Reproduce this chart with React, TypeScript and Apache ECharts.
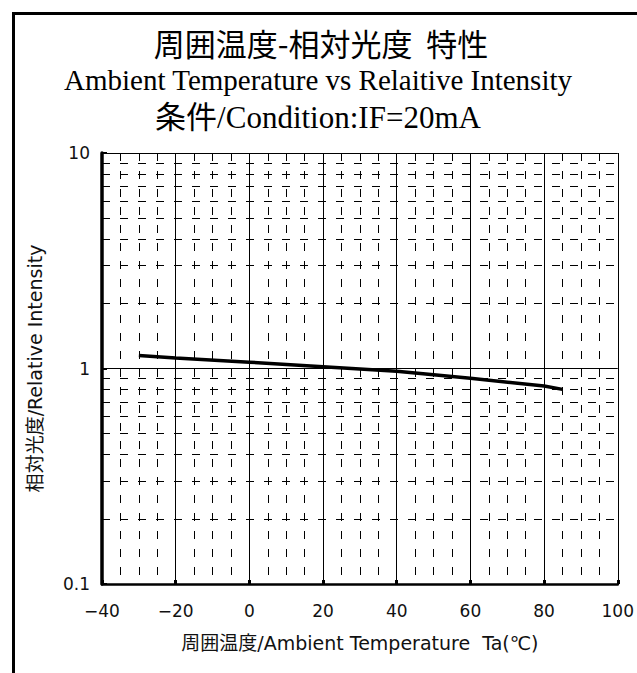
import React, { useEffect, useRef } from "react";
import * as echarts from "echarts";

const titleLines = [
  "周囲温度-相対光度  特性",
  "Ambient Temperature vs Relaitive Intensity",
  "条件/Condition:IF=20mA",
];
const xName = "周囲温度/Ambient Temperature  Ta(℃)";
const yName = "相対光度/Relative Intensity";

const temperature = [-30, -20, 0, 20, 40, 60, 80, 85];
const intensity = [1.15, 1.12, 1.07, 1.02, 0.97, 0.9, 0.83, 0.8];

const minorYLines = [0.2, 0.3, 0.4, 0.5, 0.6, 0.7, 0.8, 0.9, 2, 3, 4, 5, 6, 7, 8, 9];

const SANS = "'Noto Sans CJK JP', 'Liberation Sans', sans-serif";
const GOTHIC = "'DejaVu Sans', 'Noto Sans CJK JP', sans-serif";
const SERIF = "'Liberation Serif', 'Noto Sans CJK JP', serif";

export default function App() {
  const ref = useRef<HTMLDivElement>(null);
  useEffect(() => {
    if (!ref.current) return;
    const chart = echarts.init(ref.current, null, { renderer: "svg" });
    chart.setOption({
      animation: false,
      backgroundColor: "#fff",
      graphic: [
        {
          type: "rect",
          shape: { x: 13.5, y: 13.5, width: 700, height: 700 },
          style: { fill: "none", stroke: "#000", lineWidth: 3 },
          silent: true,
        },
        {
          type: "text",
          x: 321,
          y: 42,
          style: {
            text: titleLines[0],
            fontFamily: SANS,
            fontSize: 31,
            fill: "#000",
            align: "center",
            verticalAlign: "middle",
          },
        },
        {
          type: "text",
          x: 318,
          y: 80,
          style: {
            text: titleLines[1],
            fontFamily: SERIF,
            fontSize: 29,
            fill: "#000",
            align: "center",
            verticalAlign: "middle",
          },
        },
        {
          type: "text",
          x: 318,
          y: 117,
          style: {
            text: titleLines[2],
            fontFamily: SERIF,
            fontSize: 31,
            fill: "#000",
            align: "center",
            verticalAlign: "middle",
          },
        },
      ],
      grid: { left: 102, right: 17, top: 153, bottom: 89, containLabel: false },
      xAxis: {
        type: "value",
        min: -40,
        max: 100,
        interval: 20,
        name: xName,
        nameLocation: "middle",
        nameGap: 49,
        nameTextStyle: { fontFamily: GOTHIC, fontSize: 19, color: "#111" },
        axisLine: { show: true, onZero: false, lineStyle: { color: "#000", width: 2.5 } },
        axisTick: { show: true, inside: true, length: 4, lineStyle: { color: "#000", width: 3 } },
        axisLabel: {
          fontFamily: GOTHIC,
          fontSize: 17,
          color: "#111",
          margin: 18,
          formatter: (v: number) => (v < 0 ? "−" + Math.abs(v) : String(v)),
        },
        splitLine: { show: true, lineStyle: { color: "#000", width: 1 } },
        minorTick: { show: false, splitNumber: 4 },
        minorSplitLine: { show: true, lineStyle: { color: "#000", width: 1, type: [8, 10] } },
      },
      yAxis: {
        type: "log",
        logBase: 10,
        min: 0.1,
        max: 10,
        name: yName,
        nameLocation: "middle",
        nameGap: 58,
        nameRotate: 90,
        nameTextStyle: { fontFamily: GOTHIC, fontSize: 19, color: "#111" },
        axisLine: { show: true, onZero: false, lineStyle: { color: "#000", width: 3.5 } },
        axisTick: { show: true, inside: true, length: 5, lineStyle: { color: "#000", width: 2 } },
        axisLabel: {
          fontFamily: GOTHIC,
          fontSize: 17,
          color: "#111",
          margin: 12,
          formatter: (v: number) => (v >= 10 ? "10" : v >= 1 ? "1" : "0.1"),
        },
        splitLine: { show: true, lineStyle: { color: "#000", width: 1 } },
      },
      series: [
        {
          type: "line",
          data: temperature.map((t, i) => [t, intensity[i]]),
          showSymbol: false,
          symbol: "none",
          lineStyle: { color: "#000", width: 3.5 },
          z: 5,
          markLine: {
            silent: true,
            symbol: "none",
            label: { show: false },
            lineStyle: { color: "#000", width: 1, type: [8, 10] },
            data: minorYLines.map((v) => ({ yAxis: v })),
            z: 1,
          },
        },
      ],
    });
    return () => chart.dispose();
  }, []);
  return (
    <div
      ref={ref}
      style={{ position: "absolute", left: 0, top: 0, width: 637, height: 673, background: "#fff" }}
    />
  );
}
